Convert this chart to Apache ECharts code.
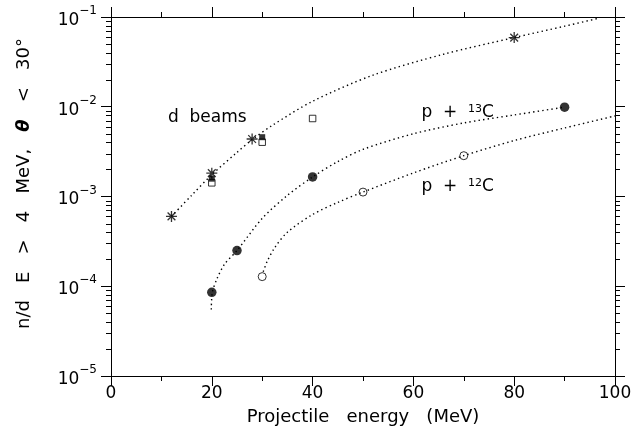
<!DOCTYPE html>
<html><head><meta charset="utf-8">
<script src="https://cdn.jsdelivr.net/npm/echarts@6/dist/echarts.min.js"></script>
<style>html,body{margin:0;padding:0;background:#fff}#c{width:639px;height:439px}</style>
</head><body><div id="c"></div>
<script>
const FONT = 'DejaVu Sans';
// x axis tick labels and y decade exponents
const xTickLabels = [0, 20, 40, 60, 80, 100];
const yDecades = [-5, -4, -3, -2, -1];
// d beams
const dStarX = [12, 20, 28, 80];
const dStarY = [6.0e-4, 1.82e-3, 4.37e-3, 5.9e-2];
const dFillSqX = [20, 30];
const dFillSqY = [1.58e-3, 4.58e-3];
const dOpenSqX = [20, 30, 40];
const dOpenSqY = [1.42e-3, 4.03e-3, 7.4e-3];
const dCurveX = [12, 16, 20, 25, 28, 32, 40, 52, 66, 80, 90, 97];
const dCurveY = [6.0e-4, 1.03e-3, 1.75e-3, 3.1e-3, 4.3e-3, 6.2e-3, 1.15e-2, 2.25e-2, 3.85e-2, 5.9e-2, 7.9e-2, 9.75e-2];
// p + 13C
const c13X = [20, 25, 40, 90];
const c13Y = [8.55e-5, 2.5e-4, 1.65e-3, 9.9e-3];
const c13CurveX = [19.9, 20.1, 21, 22.5, 25, 30, 35, 40, 45, 50, 60, 70, 80, 90];
const c13CurveY = [5.5e-5, 8.5e-5, 1.2e-4, 1.75e-4, 2.5e-4, 5.7e-4, 1.03e-3, 1.65e-3, 2.45e-3, 3.35e-3, 5.0e-3, 6.6e-3, 8.1e-3, 9.9e-3];
// p + 12C
const c12X = [30, 50, 70];
const c12Y = [1.28e-4, 1.12e-3, 2.85e-3];
const c12CurveX = [30.2, 31, 32.5, 35, 40, 45, 50, 60, 70, 80, 90, 100];
const c12CurveY = [1.45e-4, 1.9e-4, 2.7e-4, 4.0e-4, 6.3e-4, 8.6e-4, 1.12e-3, 1.83e-3, 2.85e-3, 4.2e-3, 5.8e-3, 7.9e-3];
// annotation texts (data coordinates of left edge / vertical centre)
const labelTexts = ['d  beams', 'p  +  {s|13}C', 'p  +  {s|12}C'];
const labelX = [11.3, 61.6, 61.6];
const labelY = [7.55e-3, 8.6e-3, 1.3e-3];

const zip = (a, b) => a.map((v, i) => [v, b[i]]);
const chart = echarts.init(document.getElementById('c'), null, {renderer: 'canvas'});
const black = '#000';
const supRich = {
  b: {fontFamily: FONT, fontSize: 17, color: black, lineHeight: 24, verticalAlign: 'bottom'},
  s: {fontFamily: FONT, fontSize: 12, color: black, lineHeight: 14, verticalAlign: 'top'}
};
const xCommon = {
  type: 'value', min: 0, max: 100, interval: 20,
  axisLine: {show: true, onZero: false, lineStyle: {color: black, width: 1}},
  axisTick: {show: true, inside: false, length: 10, lineStyle: {color: black, width: 1}},
  minorTick: {show: true, splitNumber: 2, length: 5, lineStyle: {color: black, width: 1}},
  splitLine: {show: false}, minorSplitLine: {show: false}
};
const yCommon = {
  type: 'log', logBase: 10, min: 1e-5, max: 1e-1, splitNumber: 4,
  axisLine: {show: true, onZero: false, lineStyle: {color: black, width: 1}},
  axisTick: {show: true, inside: false, length: 10, lineStyle: {color: black, width: 1}},
  splitLine: {show: false}
};
const starPath = 'path://M6,0L6,12M0,6L12,6M1.76,1.76L10.24,10.24M1.76,10.24L10.24,1.76';
const curve = (x, y) => ({
  type: 'line', data: zip(x, y), smooth: 0.3, symbol: 'none', z: 1, silent: true,
  lineStyle: {color: black, width: 1.4, type: [1.4, 3.2], cap: 'butt'}
});
const option = {
  animation: false,
  backgroundColor: '#fff',
  grid: {left: 111, right: 24, top: 17, bottom: 63},
  xAxis: [
    Object.assign({}, xCommon, {
      position: 'bottom',
      axisLabel: {show: true, margin: 9, fontFamily: FONT, fontSize: 17, color: black,
        formatter: v => xTickLabels.includes(v) ? String(v) : ''},
      name: 'Projectile   energy   (MeV)', nameLocation: 'middle', nameGap: 32,
      nameTextStyle: {fontFamily: FONT, fontSize: 18, color: black}
    }),
    Object.assign({}, xCommon, {position: 'top', axisLabel: {show: false}})
  ],
  yAxis: [
    Object.assign({}, yCommon, {
      position: 'left',
      axisLabel: {show: true, margin: 14, rich: supRich,
        formatter: v => {
          const e = Math.round(Math.log10(v));
          return yDecades.includes(e) ? '{b|10}{s|\u2212' + Math.abs(e) + '}' : '';
        }},
      name: '{n|n/d   E   >   4   MeV,   }{t|\u03b8}{n|   <   30°}',
      nameLocation: 'middle', nameGap: 78, nameRotate: 90,
      nameTextStyle: {padding: [0, 0, 0, 26], rich: {
        n: {fontFamily: FONT, fontSize: 18, color: black},
        t: {fontFamily: FONT, fontSize: 18, color: black, fontWeight: 'bold', fontStyle: 'italic'}
      }}
    }),
    Object.assign({}, yCommon, {position: 'right', axisLabel: {show: false}})
  ],
  series: [
    curve(dCurveX, dCurveY),
    curve(c13CurveX, c13CurveY),
    curve(c12CurveX, c12CurveY),
    {type: 'scatter', data: zip(dStarX, dStarY), symbol: starPath, symbolSize: 11, z: 3,
      itemStyle: {color: black, borderColor: black, borderWidth: 1.3}},
    {type: 'scatter', data: zip(dOpenSqX, dOpenSqY), symbol: 'rect', symbolSize: 6.5, z: 3,
      itemStyle: {color: '#fff', borderColor: black, borderWidth: 1}},
    {type: 'scatter', data: zip(dFillSqX, dFillSqY), symbol: 'rect', symbolSize: 6, z: 4,
      itemStyle: {color: black}},
    {type: 'scatter', data: zip(c13X, c13Y), symbol: 'circle', symbolSize: 9.5, z: 3,
      itemStyle: {color: black}},
    {type: 'scatter', data: zip(c12X, c12Y), symbol: 'circle', symbolSize: 8, z: 3,
      itemStyle: {color: 'rgba(0,0,0,0)', borderColor: black, borderWidth: 1}}
  ]
};
chart.setOption(option);

// log minor ticks (2..9 within each decade) on left and right axes, outward
const graphics = [];
const xl = chart.convertToPixel({xAxisIndex: 0}, 0);
const xr = chart.convertToPixel({xAxisIndex: 0}, 100);
for (let d = -5; d <= -2; d++) {
  for (let m = 2; m <= 9; m++) {
    const py = Math.round(chart.convertToPixel({yAxisIndex: 0}, m * Math.pow(10, d))) + 0.5;
    graphics.push({type: 'line', silent: true, shape: {x1: xl - 5, y1: py, x2: xl, y2: py}, style: {stroke: black, lineWidth: 1}});
    graphics.push({type: 'line', silent: true, shape: {x1: xr, y1: py, x2: xr + 5, y2: py}, style: {stroke: black, lineWidth: 1}});
  }
}
labelTexts.forEach((t, i) => {
  const p = chart.convertToPixel({xAxisIndex: 0, yAxisIndex: 0}, [labelX[i], labelY[i]]);
  graphics.push({type: 'text', silent: true, x: p[0], y: p[1], style: {
    text: t, fill: black, font: '17px "DejaVu Sans"', textAlign: 'left', textVerticalAlign: 'middle',
    rich: {s: {fontFamily: FONT, fontSize: 11, fill: black, verticalAlign: 'top', lineHeight: 12}}
  }});
});
chart.setOption({graphic: graphics});
</script></body></html>
